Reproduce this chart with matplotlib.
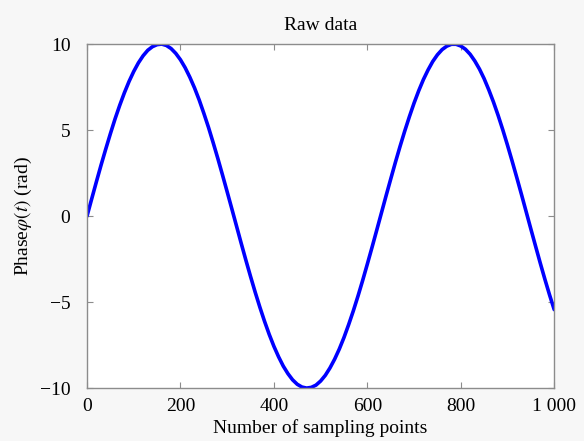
import matplotlib
matplotlib.use("Agg")
import matplotlib.pyplot as plt

# Raw phase data, one value every 10 sampling points
samples = list(range(0, 1001, 10))
phase = [0.00, 1.00, 1.99, 2.96, 3.89, 4.79, 5.65, 6.44, 7.17, 7.83,
         8.41, 8.91, 9.32, 9.64, 9.85, 9.97, 10.00, 9.92, 9.74, 9.46,
         9.09, 8.63, 8.08, 7.46, 6.76, 5.98, 5.16, 4.27, 3.35, 2.39,
         1.41, 0.42, -0.58, -1.58, -2.56, -3.51, -4.43, -5.30, -6.12, -6.88,
         -7.57, -8.18, -8.72, -9.16, -9.52, -9.78, -9.94, -10.00, -9.96, -9.83,
         -9.59, -9.26, -8.83, -8.32, -7.73, -7.06, -6.31, -5.51, -4.65, -3.74,
         -2.79, -1.82, -0.83, 0.17, 1.17, 2.15, 3.12, 4.05, 4.94, 5.78,
         6.57, 7.29, 7.94, 8.50, 8.99, 9.38, 9.68, 9.88, 9.99, 9.99,
         9.89, 9.70, 9.41, 9.02, 8.55, 7.99, 7.34, 6.63, 5.85, 5.01,
         4.12, 3.19, 2.23, 1.25, 0.25, -0.75, -1.74, -2.72, -3.67, -4.58,
         -5.44]

xticks = [0, 200, 400, 600, 800, 1000]
xtick_labels = ["0", "200", "400", "600", "800", "1 000"]
yticks = [-10, -5, 0, 5, 10]
ytick_labels = ["\u221210", "\u22125", "0", "5", "10"]

plt.rcParams["font.family"] = ["Liberation Serif", "DejaVu Serif"]
plt.rcParams["mathtext.fontset"] = "stix"

fig = plt.figure(figsize=(5.84, 4.41), dpi=100, facecolor="#f7f7f7")
ax = fig.add_axes([0.149, 0.120, 0.800, 0.780])
ax.set_facecolor("white")

ax.plot(samples, phase, color="#0000ff", linewidth=2.6, solid_capstyle="round")

ax.set_xlim(0, 1000)
ax.set_ylim(-10, 10)
ax.set_xticks(xticks)
ax.set_xticklabels(xtick_labels)
ax.set_yticks(yticks)
ax.set_yticklabels(ytick_labels)

for s in ax.spines.values():
    s.set_color("#8c8c8c")
    s.set_linewidth(1.0)
ax.tick_params(axis="both", direction="in", length=4, width=0.8, color="#8c8c8c",
               top=True, right=True, labelsize=14)
ax.tick_params(axis="x", pad=7)
ax.tick_params(axis="y", pad=12)

ax.set_title("Raw data", fontsize=14, pad=10)
ax.set_xlabel("Number of sampling points", fontsize=14, labelpad=3)
ax.set_ylabel(r"Phase$\varphi(t)$ (rad)", fontsize=14, labelpad=4)

fig.savefig("out.png", dpi=100, facecolor=fig.get_facecolor())
